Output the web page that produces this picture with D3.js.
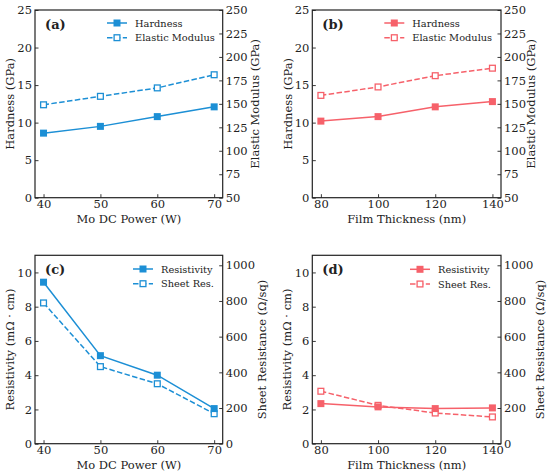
<!DOCTYPE html>
<html>
<head>
<meta charset="utf-8">
<script src="https://cdn.jsdelivr.net/npm/d3@7"></script>
<style>
  body { margin: 0; background: #fff; }
  svg { display: block; }
  text { font-family: "DejaVu Serif", serif; fill: #222; }
</style>
</head>
<body>
<div id="chart"></div>
<script>
// data
const powerW = [40, 50, 60, 70];
const thicknessNm = [80, 100, 120, 140];

const hardnessPower = [8.6, 9.5, 10.8, 12.1];
const modulusPower = [149, 158, 167, 181];
const hardnessThick = [10.2, 10.8, 12.1, 12.8];
const modulusThick = [159, 168, 180, 188];

const resistivityPower = [9.43, 5.14, 4.0, 2.05];
const sheetPower = [789, 432, 336, 168];
const resistivityThick = [2.34, 2.15, 2.05, 2.09];
const sheetThick = [294, 215, 172, 150];

const hardTicks = [0, 5, 10, 15, 20, 25];
const modTicks = [50, 75, 100, 125, 150, 175, 200, 225, 250];
const resTicks = [0, 2, 4, 6, 8, 10];
const sheetTicks = [0, 200, 400, 600, 800, 1000];

const BLUE = "#1c8fd5";
const RED = "#f6616a";

const svg = d3.select("#chart").append("svg")
  .attr("width", 550)
  .attr("height", 474);

const panels = [
  {
    tag: "(a)", color: BLUE, x: powerW, xDom: [38.5, 71.5],
    box: [35, 10, 222.7, 197.7],
    y1: hardnessPower, y1Dom: [0, 25], y1Ticks: hardTicks,
    y2: modulusPower, y2Dom: [50, 250], y2Ticks: modTicks,
    xLabel: "Mo DC Power (W)", y1Label: "Hardness (GPa)", y2Label: "Elastic Modulus (GPa)",
    names: ["Hardness", "Elastic Modulus"],
    legend: [107, 23], y1LabX: 10, y2LabX: 255
  },
  {
    tag: "(b)", color: RED, x: thicknessNm, xDom: [77, 143],
    box: [312.3, 10, 501, 197.7],
    y1: hardnessThick, y1Dom: [0, 25], y1Ticks: hardTicks,
    y2: modulusThick, y2Dom: [50, 250], y2Ticks: modTicks,
    xLabel: "Film Thickness (nm)", y1Label: "Hardness (GPa)", y2Label: "Elastic Modulus (GPa)",
    names: ["Hardness", "Elastic Modulus"],
    legend: [384.3, 23], y1LabX: 287.7, y2LabX: 531
  },
  {
    tag: "(c)", color: BLUE, x: powerW, xDom: [38.5, 71.5],
    box: [35, 255.3, 222.7, 443.7],
    y1: resistivityPower, y1Dom: [0, 11], y1Ticks: resTicks,
    y2: sheetPower, y2Dom: [0, 1056], y2Ticks: sheetTicks,
    xLabel: "Mo DC Power (W)", y1Label: "Resistivity (mΩ · cm)", y2Label: "Sheet Resistance (Ω/sq)",
    names: ["Resistivity", "Sheet Res."],
    legend: [133, 269], y1LabX: 10, y2LabX: 262
  },
  {
    tag: "(d)", color: RED, x: thicknessNm, xDom: [77, 143],
    box: [312.3, 255.3, 501, 443.7],
    y1: resistivityThick, y1Dom: [0, 11], y1Ticks: resTicks,
    y2: sheetThick, y2Dom: [0, 1056], y2Ticks: sheetTicks,
    xLabel: "Film Thickness (nm)", y1Label: "Resistivity (mΩ · cm)", y2Label: "Sheet Resistance (Ω/sq)",
    names: ["Resistivity", "Sheet Res."],
    legend: [410, 269.3], y1LabX: 286.7, y2LabX: 540
  }
];

panels.forEach(drawPanel);

function drawPanel(p) {
  const [x0, y0, x1, y1] = p.box;
  const g = svg.append("g");
  const xs = d3.scaleLinear().domain(p.xDom).range([x0, x1]);
  const ys1 = d3.scaleLinear().domain(p.y1Dom).range([y1, y0]);
  const ys2 = d3.scaleLinear().domain(p.y2Dom).range([y1, y0]);
  const fmt = d3.format("d");

  const styleAxis = (a) => {
    a.select(".domain").remove();
    a.selectAll(".tick line").attr("stroke", "#222").attr("stroke-width", 0.9);
    a.selectAll(".tick text")
      .style("font-size", "11.5px")
      .style("font-family", "'DejaVu Serif', serif")
      .attr("fill", "#222");
  };

  // inward ticks, like the source figure
  g.append("g").attr("transform", `translate(0,${y1})`)
    .call(d3.axisBottom(xs).tickValues(p.x).tickFormat(fmt)
      .tickSizeInner(-3.5).tickSizeOuter(0).tickPadding(2.5))
    .call(styleAxis);
  g.append("g").attr("transform", `translate(${x0},0)`)
    .call(d3.axisLeft(ys1).tickValues(p.y1Ticks).tickFormat(fmt)
      .tickSizeInner(-3.5).tickSizeOuter(0).tickPadding(3))
    .call(styleAxis);
  g.append("g").attr("transform", `translate(${x1},0)`)
    .call(d3.axisRight(ys2).tickValues(p.y2Ticks).tickFormat(fmt)
      .tickSizeInner(-3.5).tickSizeOuter(0).tickPadding(3))
    .call(styleAxis);

  g.append("rect")
    .attr("x", x0).attr("y", y0)
    .attr("width", x1 - x0).attr("height", y1 - y0)
    .attr("fill", "none").attr("stroke", "#222").attr("stroke-width", 1.2);

  const pts1 = p.x.map((v, i) => [xs(v), ys1(p.y1[i])]);
  const pts2 = p.x.map((v, i) => [xs(v), ys2(p.y2[i])]);
  const line = d3.line();

  g.append("path").attr("d", line(pts2))
    .attr("fill", "none").attr("stroke", p.color).attr("stroke-width", 1.5)
    .attr("stroke-dasharray", "5.5,2.4");
  g.append("path").attr("d", line(pts1))
    .attr("fill", "none").attr("stroke", p.color).attr("stroke-width", 1.5);

  const m = 7;
  g.selectAll(".m2").data(pts2).enter().append("rect")
    .attr("x", d => d[0] - m / 2 + 0.6).attr("y", d => d[1] - m / 2 + 0.6)
    .attr("width", m - 1.2).attr("height", m - 1.2)
    .attr("fill", "#fff").attr("stroke", p.color).attr("stroke-width", 1.3);
  g.selectAll(".m1").data(pts1).enter().append("rect")
    .attr("x", d => d[0] - m / 2).attr("y", d => d[1] - m / 2)
    .attr("width", m).attr("height", m)
    .attr("fill", p.color);

  // panel tag
  g.append("text").attr("x", x0 + 10).attr("y", y0 + 15)
    .attr("dominant-baseline", "middle")
    .style("font-size", "13px").style("font-weight", "bold")
    .attr("fill", "#222").text(p.tag);

  // legend
  const [lx, ly] = p.legend;
  [0, 1].forEach(i => {
    const yy = ly + i * 14.7;
    g.append("line").attr("x1", lx).attr("x2", lx + 20).attr("y1", yy).attr("y2", yy)
      .attr("stroke", p.color).attr("stroke-width", 1.5)
      .attr("stroke-dasharray", i ? "5.5,2.4" : null);
    if (i) {
      g.append("rect").attr("x", lx + 10 - m / 2 + 0.6).attr("y", yy - m / 2 + 0.6)
        .attr("width", m - 1.2).attr("height", m - 1.2)
        .attr("fill", "#fff").attr("stroke", p.color).attr("stroke-width", 1.3);
    } else {
      g.append("rect").attr("x", lx + 10 - m / 2).attr("y", yy - m / 2)
        .attr("width", m).attr("height", m).attr("fill", p.color);
    }
    g.append("text").attr("x", lx + 28).attr("y", yy)
      .attr("dominant-baseline", "central")
      .style("font-size", "9.8px").attr("fill", "#222").text(p.names[i]);
  });

  // axis labels
  const cy = (y0 + y1) / 2;
  g.append("text").attr("x", (x0 + x1) / 2).attr("y", y1 + 21)
    .attr("text-anchor", "middle").attr("dominant-baseline", "central")
    .style("font-size", "11.5px").text(p.xLabel);
  g.append("text").attr("transform", `translate(${p.y1LabX},${cy}) rotate(-90)`)
    .attr("text-anchor", "middle").attr("dominant-baseline", "central")
    .style("font-size", "11.5px").text(p.y1Label);
  g.append("text").attr("transform", `translate(${p.y2LabX},${cy}) rotate(-90)`)
    .attr("text-anchor", "middle").attr("dominant-baseline", "central")
    .style("font-size", "11.5px").text(p.y2Label);
}
</script>
</body>
</html>
